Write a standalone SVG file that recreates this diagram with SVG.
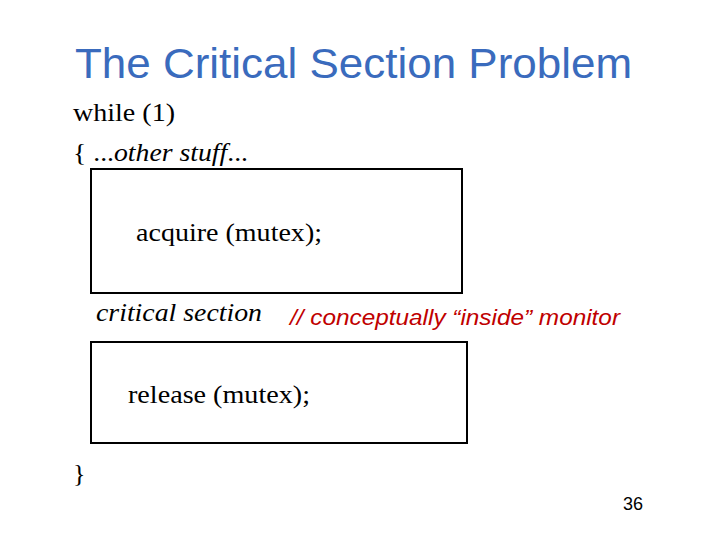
<svg xmlns="http://www.w3.org/2000/svg" width="720" height="540" viewBox="0 0 720 540">
<style>
.s{font-family:"Liberation Serif",serif;font-size:26px;fill:#000}
.b{fill:#fff;stroke:#000;stroke-width:2}
</style>
<rect width="720" height="540" fill="#fff"/>
<text x="75" y="78" font-family="Liberation Sans,sans-serif" font-size="42" fill="#3a6bbd" textLength="557" lengthAdjust="spacingAndGlyphs">The Critical Section Problem</text>
<text class="s" x="73" y="121" textLength="102" lengthAdjust="spacingAndGlyphs">while (1)</text>
<text class="s" x="73" y="161" textLength="175" lengthAdjust="spacingAndGlyphs">{ ...<tspan font-style="italic">other stuff</tspan>...</text>
<g id="acquire"><rect class="b" x="91" y="169" width="371" height="124"/>
<text class="s" x="136" y="241" textLength="186" lengthAdjust="spacingAndGlyphs">acquire (mutex);</text></g>
<text class="s" x="96" y="321" font-style="italic" textLength="166" lengthAdjust="spacingAndGlyphs">critical section</text>
<text x="290" y="325" font-family="Liberation Sans,sans-serif" font-size="22" font-style="italic" fill="#c00000" textLength="330" lengthAdjust="spacingAndGlyphs">// conceptually “inside” monitor</text>
<g id="release"><rect class="b" x="91" y="342" width="376" height="101"/>
<text class="s" x="128" y="403" textLength="182" lengthAdjust="spacingAndGlyphs">release (mutex);</text></g>
<text class="s" x="73" y="482">}</text>
<text x="623" y="510" font-family="Liberation Sans,sans-serif" font-size="18">36</text>
<g id="connectors"/>
</svg>
